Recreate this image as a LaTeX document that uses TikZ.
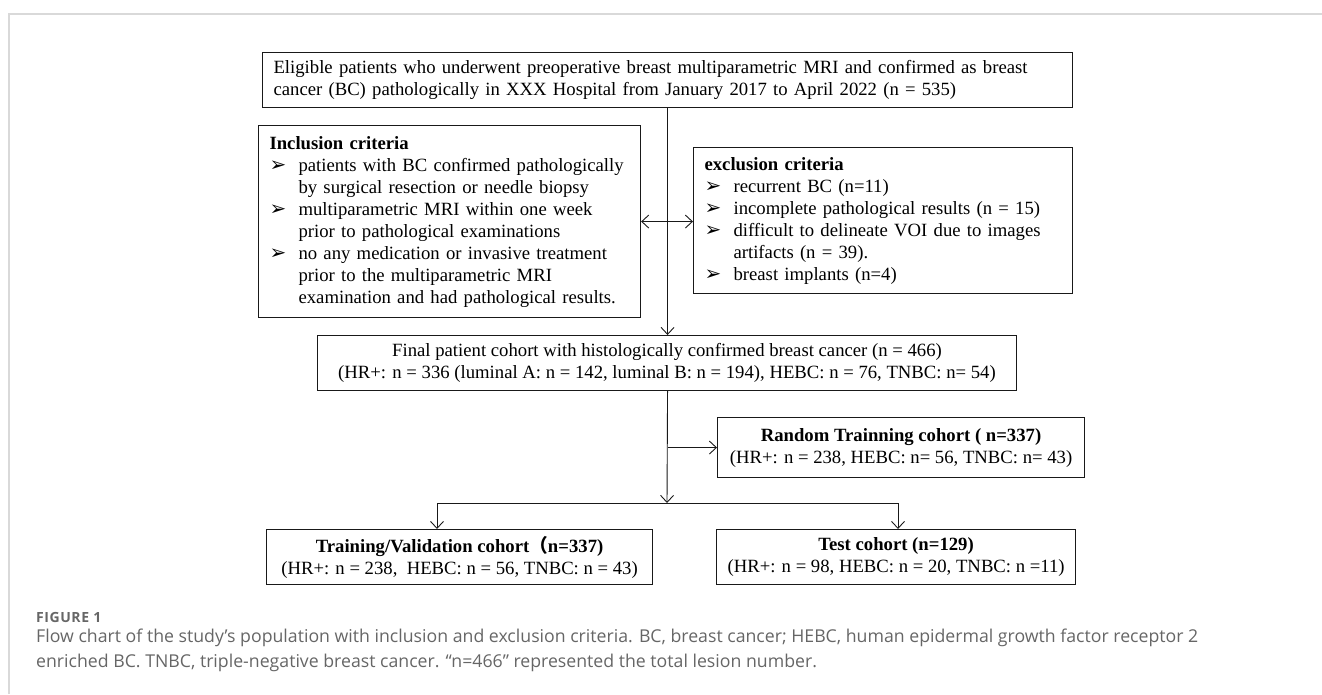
\documentclass[tikz,border=0pt]{standalone}
\usepackage{fontspec}
\setmainfont{Liberation Serif}
\newfontfamily\capfont{Open Sans}
\newfontfamily\figfont[LetterSpace=4]{Open Sans}
\newfontfamily\symfont{DejaVu Sans}
\newfontfamily\cjkfont{Noto Sans CJK SC}
\usetikzlibrary{arrows.meta,calc,positioning}
\definecolor{BoxClr}{rgb}{0.1,0.1,0.1}
\definecolor{CapClr}{rgb}{0.4,0.4,0.4}
\definecolor{FrameClr}{rgb}{0.85,0.85,0.85}
\newcommand{\itm}{\makebox[29pt][l]{\symfont\fontsize{20}{20}\selectfont ➢}}
\newcommand{\cont}{\hspace*{29pt}}

\begin{document}
\begin{tikzpicture}[x=1pt,y=-1pt,
  box/.style={draw=BoxClr,line width=1.1pt,inner xsep=11pt,inner ysep=0pt,anchor=north west,
    font=\fontsize{18.7}{22}\selectfont},
  link/.style={draw=BoxClr,line width=0.9pt},
  tip/.style={-{Straight Barb[length=7pt,width=13pt]}}]
\useasboundingbox (0,0) rectangle (1322,694);
\draw[FrameClr,line width=1.5pt] (9,694) -- (9,14) -- (1322,14);

\node[box,minimum width=810,minimum height=55,text width=788,align=left] (elig) at (262,52)
  {Eligible patients who underwent preoperative breast multiparametric MRI and confirmed as breast\\
   cancer (BC) pathologically in XXX Hospital from January 2017 to April 2022 (n = 535)};

\node[box,minimum width=382,minimum height=192,text width=360,align=left] (incl) at (258,125)
  {\textbf{Inclusion criteria}\\
   \itm patients with BC confirmed pathologically\\
   \cont by surgical resection or needle biopsy\\
   \itm multiparametric MRI within one week\\
   \cont prior to pathological examinations\\
   \itm no any medication or invasive treatment\\
   \cont prior to the multiparametric MRI\\
   \cont examination and had pathological results.};

\node[box,minimum width=379,minimum height=146,text width=357,align=left] (excl) at (693,147)
  {\textbf{exclusion criteria}\\
   \itm recurrent BC (n=11)\\
   \itm incomplete pathological results (n = 15)\\
   \itm difficult to delineate VOI due to images\\
   \cont artifacts (n = 39).\\
   \itm breast implants (n=4)};

\node[box,anchor=north,minimum width=699,minimum height=55,align=center] (final) at (667,335)
  {Final patient cohort with histologically confirmed breast cancer (n = 466)\\
   (HR+: n = 336 (luminal A: n = 142, luminal B: n = 194), HEBC: n = 76, TNBC: n= 54)};

\node[box,minimum width=367,minimum height=60,align=center] (random) at (717,417)
  {\textbf{Random Trainning cohort ( n=337)}\\
   (HR+: n = 238, HEBC: n= 56, TNBC: n= 43)};

\node[box,minimum width=386,minimum height=55,align=center] (train) at (266,529)
  {\textbf{Training/Validation cohort{\cjkfont （}n=337)}\\
   (HR+: n = 238,\ \ HEBC: n = 56, TNBC: n = 43)};

\node[box,minimum width=356,minimum height=55,align=center] (test) at (716,529)
  {\textbf{Test cohort (n=129)}\\
   (HR+: n = 98, HEBC: n = 20, TNBC: n =11)};

\coordinate (split) at (667,503);
\coordinate (brL) at (437,503);
\coordinate (brR) at (898,503);

\draw[link,tip] (elig.south) -- (elig.south |- final.north);
\draw[link,{Straight Barb[length=7pt,width=13pt]}-{Straight Barb[length=7pt,width=13pt]}] (incl.east) -- (incl.east -| excl.west);
\draw[link,tip] (elig.south |- final.south) -- (split);
\draw[link,tip] (elig.south |- random.west) -- (random.west);
\draw[link] (brL) -- (brR);
\draw[link,tip] (brL) -- (brL |- train.north);
\draw[link,tip] (brR) -- (brR |- test.north);

\node[anchor=west,text=CapClr,font=\figfont\bfseries\fontsize{14}{14}\selectfont,inner sep=0pt] (fig) at (36,617) {FIGURE 1};
\node[anchor=north west,text=CapClr,font=\capfont\fontsize{17.7}{25}\selectfont,inner sep=0pt,align=left] (cap) at (36,629)
  {Flow chart of the study’s population with inclusion and exclusion criteria. BC, breast cancer; HEBC, human epidermal growth factor receptor 2\\
   enriched BC. TNBC, triple-negative breast cancer. “n=466” represented the total lesion number.};

\end{tikzpicture}
\end{document}
